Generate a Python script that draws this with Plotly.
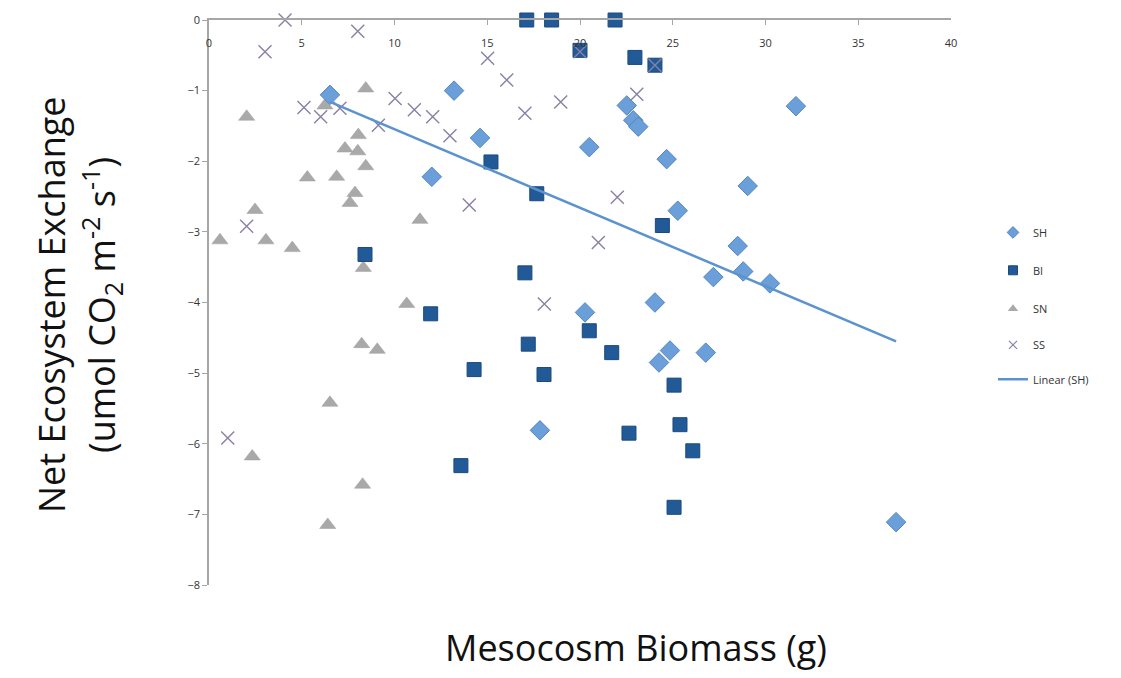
import numpy as np
import plotly.graph_objects as go

# Net ecosystem exchange vs. mesocosm biomass, per mesocosm type
sh_x = [6.52, 13.21, 14.61, 12.01, 20.50, 22.52, 22.87, 23.14, 24.67, 25.27, 29.04, 31.64,
        28.50, 27.19, 28.80, 30.24, 24.04, 20.27, 24.85, 24.26, 26.78, 17.84, 37.04]
sh_y = [-1.06, -1.00, -1.67, -2.22, -1.80, -1.21, -1.42, -1.51, -1.97, -2.70, -2.35, -1.22,
        -3.20, -3.64, -3.56, -3.73, -4.00, -4.14, -4.68, -4.85, -4.71, -5.81, -7.11]

bi_x = [17.13, 18.47, 21.89, 20.00, 22.96, 24.04, 15.20, 17.67, 24.44, 20.50, 21.71, 25.07,
        25.39, 22.64, 26.08, 8.41, 17.03, 11.95, 17.21, 14.29, 18.06, 13.58, 25.07]
bi_y = [0.00, 0.00, 0.00, -0.43, -0.53, -0.64, -2.01, -2.46, -2.91, -4.40, -4.71, -5.17,
        -5.73, -5.85, -6.10, -3.32, -3.58, -4.16, -4.59, -4.95, -5.02, -6.31, -6.90]

sn_x = [2.03, 8.45, 6.25, 8.05, 7.33, 8.02, 8.45, 5.30, 6.88, 7.87, 7.60, 2.48, 0.59, 3.07,
        4.49, 8.32, 10.66, 11.37, 8.23, 9.07, 6.52, 2.33, 8.28, 6.40]
sn_y = [-1.37, -0.97, -1.21, -1.63, -1.82, -1.86, -2.07, -2.23, -2.22, -2.45, -2.59, -2.69,
        -3.12, -3.12, -3.23, -3.51, -4.02, -2.83, -4.59, -4.67, -5.42, -6.18, -6.58, -7.15]

ss_x = [4.10, 8.02, 3.02, 5.12, 6.02, 7.06, 9.13, 10.03, 11.07, 12.06, 12.99, 15.02, 16.05,
        17.03, 18.96, 20.00, 23.06, 24.04, 14.03, 22.01, 20.99, 18.08, 1.01, 2.03]
ss_y = [0.00, -0.16, -0.45, -1.24, -1.37, -1.25, -1.49, -1.11, -1.27, -1.37, -1.64, -0.54,
        -0.85, -1.32, -1.16, -0.45, -1.05, -0.64, -2.62, -2.51, -3.15, -4.02, -5.92, -2.92]

x_ticks = [0, 5, 10, 15, 20, 25, 30, 35, 40]
y_ticks = [0, -1, -2, -3, -4, -5, -6, -7, -8]

SH_COLOR = "#6a9fd9"
BI_COLOR = "#215a97"
SN_COLOR = "#a9a9a9"
SS_COLOR = "#8a7fa6"
FIT_COLOR = "#5b93cf"
FONT = "Open Sans"

# least-squares trend line for SH
slope, intercept = np.polyfit(sh_x, sh_y, 1)
fit_x = np.array([min(sh_x), max(sh_x)])
fit_y = slope * fit_x + intercept

fig = go.Figure()

fig.add_trace(go.Scatter(
    x=sn_x, y=sn_y, mode="markers", name="SN", showlegend=False, cliponaxis=False,
    marker=dict(symbol="triangle-up", size=14, color=SN_COLOR,
                line=dict(color="#9c9c9c", width=0.5))))
fig.add_trace(go.Scatter(
    x=bi_x, y=bi_y, mode="markers", name="BI", showlegend=False, cliponaxis=False,
    marker=dict(symbol="square", size=14, color=BI_COLOR,
                line=dict(color="#1b4a7e", width=1))))
fig.add_trace(go.Scatter(
    x=sh_x, y=sh_y, mode="markers", name="SH", showlegend=False, cliponaxis=False,
    marker=dict(symbol="diamond", size=15, color=SH_COLOR,
                line=dict(color="#5585c0", width=1))))
fig.add_trace(go.Scatter(
    x=ss_x, y=ss_y, mode="markers", name="SS", showlegend=False, cliponaxis=False,
    marker=dict(symbol="x-thin-open", size=13, color=SS_COLOR,
                line=dict(color=SS_COLOR, width=1.4))))
fig.add_trace(go.Scatter(
    x=fit_x, y=fit_y, mode="lines", name="Linear (SH)", showlegend=False,
    line=dict(color=FIT_COLOR, width=2.5)))

# legend entries, one small legend per row
legend_rows = [
    ("SH", dict(symbol="diamond", size=9, color=SH_COLOR, line=dict(color="#5585c0", width=1)), None),
    ("BI", dict(symbol="square", size=9, color=BI_COLOR, line=dict(color="#1b4a7e", width=1)), None),
    ("SN", dict(symbol="triangle-up", size=9, color=SN_COLOR), None),
    ("SS", dict(symbol="x-thin-open", size=8, color=SS_COLOR, line=dict(color=SS_COLOR, width=1.2)), None),
    ("Linear (SH)", None, dict(color=FIT_COLOR, width=2.5)),
]
legend_y = [0.624, 0.557, 0.489, 0.425, 0.364]
layout_legends = {}
for i, (name, mk, ln) in enumerate(legend_rows):
    key = "legend" if i == 0 else f"legend{i + 1}"
    if ln is None:
        tr = go.Scatter(x=[None], y=[None], mode="markers", name=name, marker=mk,
                        legend=key, showlegend=True)
    else:
        tr = go.Scatter(x=[None], y=[None], mode="lines", name=name, line=ln,
                        legend=key, showlegend=True)
    fig.add_trace(tr)
    layout_legends[key] = dict(
        x=1.0 + (993 - 951) / 742, y=legend_y[i], xanchor="left", yanchor="middle",
        bgcolor="rgba(0,0,0,0)", font=dict(family=FONT, size=11, color="#333333"),
        itemwidth=30, tracegroupgap=0)

fig.update_layout(
    width=1121, height=678,
    margin=dict(l=209, r=170, t=16, b=93),
    paper_bgcolor="white", plot_bgcolor="white",
    font=dict(family=FONT, size=11, color="#333333"),
    xaxis=dict(
        range=[0, 40], tickvals=x_ticks, side="top", ticklabelposition="inside",
        ticklabeloverflow="allow", ticklabelstandoff=14,
        showgrid=False, zeroline=False, showline=True, linecolor="#a6a6a6", linewidth=1.5,
        ticks="inside", ticklen=5, tickcolor="#a6a6a6", tickfont=dict(size=11, color="#333333"),
        fixedrange=True),
    yaxis=dict(
        range=[-8, 0], tickvals=y_ticks, showgrid=False, zeroline=False,
        showline=True, linecolor="#a6a6a6", linewidth=1.5, ticklabeloverflow="allow",
        ticks="outside", ticklen=5, tickcolor="#a6a6a6", tickfont=dict(size=11, color="#333333"),
        fixedrange=True),
    annotations=[
        dict(text="Mesocosm Biomass (g)", xref="paper", yref="paper",
             x=(636 - 209) / 742, y=-(648 - 585) / 569, xanchor="center", yanchor="middle",
             showarrow=False, font=dict(family=FONT, size=36, color="#111111")),
        dict(text="Net Ecosystem Exchange", xref="paper", yref="paper",
             x=-(209 - 52) / 742, y=1 - (303 - 16) / 569, xanchor="center", yanchor="middle",
             textangle=-90, showarrow=False, font=dict(family=FONT, size=36, color="#111111")),
        dict(text="(umol CO<sub>2</sub> m<sup>-2</sup> s<sup>-1</sup>)", xref="paper", yref="paper",
             x=-(209 - 102) / 742, y=1 - (303 - 16) / 569, xanchor="center", yanchor="middle",
             textangle=-90, showarrow=False, font=dict(family=FONT, size=36, color="#111111")),
    ],
    **layout_legends,
)

fig.write_html("out.html")
